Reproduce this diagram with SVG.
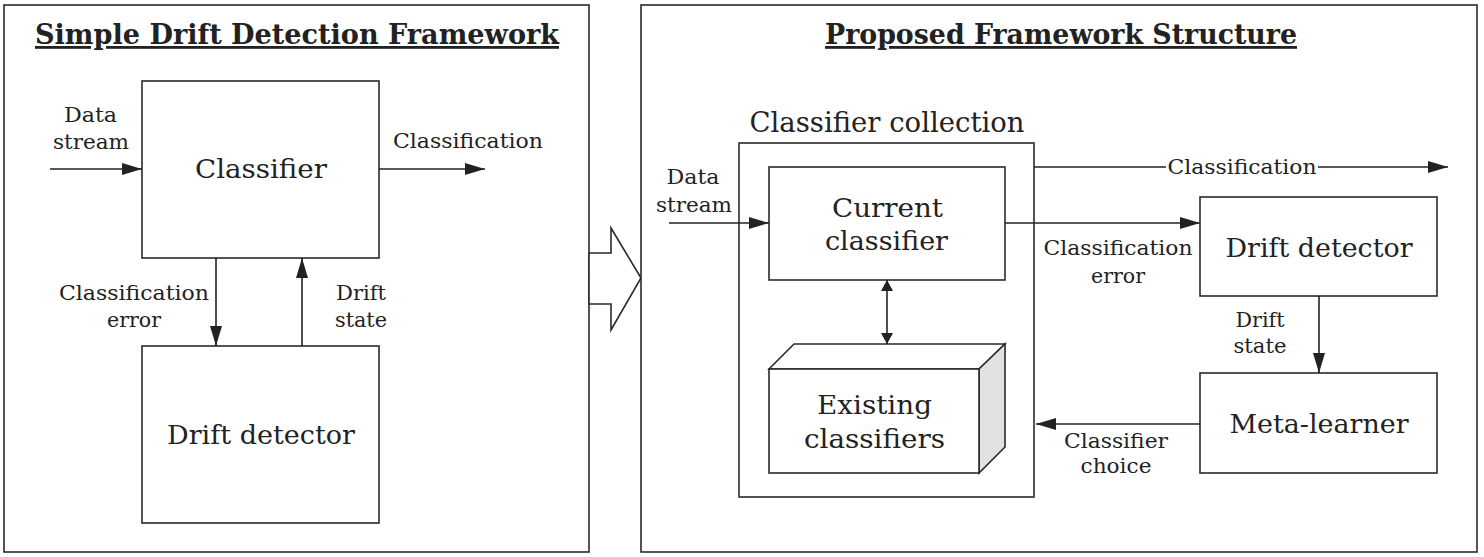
<svg xmlns="http://www.w3.org/2000/svg" width="1484" height="557" viewBox="0 0 1484 557">
<style>
.frame{fill:#fff;stroke:#2a2a2a;stroke-width:1.6}
.box{fill:#fff;stroke:#2a2a2a;stroke-width:1.6}
.ln{fill:none;stroke:#222;stroke-width:1.6}
.t{font-family:"DejaVu Serif","Liberation Serif",serif;fill:#222;text-anchor:middle}
.title{font-size:28px;font-weight:bold;text-decoration:underline}
.big{font-size:26px}
.lbl{font-size:20px}
</style>
<defs>
<marker id="ah" markerUnits="userSpaceOnUse" markerWidth="20" markerHeight="12" refX="20" refY="6" orient="auto" viewBox="0 0 20 12">
<path d="M0,0 L20,6 L0,12 z" fill="#222"/>
</marker>
<marker id="sh" markerUnits="userSpaceOnUse" markerWidth="12" markerHeight="12" refX="11" refY="6" orient="auto-start-reverse" viewBox="0 0 12 12">
<path d="M0,0 L11,6 L0,12 z" fill="#222"/>
</marker>
</defs>
<rect width="1484" height="557" fill="#fff"/>

<g id="left-panel">
<rect class="frame" x="4" y="5" width="585" height="547"/>
<text class="t title" x="297" y="44" textLength="524" lengthAdjust="spacingAndGlyphs">Simple Drift Detection Framework</text>
</g>
<g id="left-classifier">
<rect class="box" x="142" y="81" width="237" height="177"/>
<text class="t big" x="261" y="178" textLength="132" lengthAdjust="spacingAndGlyphs">Classifier</text>
</g>
<g id="left-drift-detector">
<rect class="box" x="142" y="346" width="237" height="177"/>
<text class="t big" x="261" y="444" textLength="188" lengthAdjust="spacingAndGlyphs">Drift detector</text>
</g>

<g id="transition-arrow">
<polygon class="box" points="589,253 611,253 611,228 641,278 611,330 611,304 589,304"/>
</g>

<g id="right-panel">
<rect class="frame" x="641" y="5" width="836" height="547"/>
<text class="t title" x="1061" y="44" textLength="472" lengthAdjust="spacingAndGlyphs">Proposed Framework Structure</text>
</g>
<g id="classifier-collection">
<rect class="box" x="739" y="143" width="295" height="354"/>
<text class="t" style="font-size:28px" x="887" y="132" textLength="275" lengthAdjust="spacingAndGlyphs">Classifier collection</text>
</g>
<g id="current-classifier">
<rect class="box" x="769" y="167" width="236" height="113"/>
<text class="t big" x="887.5" y="217" textLength="111" lengthAdjust="spacingAndGlyphs">Current</text>
<text class="t big" x="886.5" y="250" textLength="123" lengthAdjust="spacingAndGlyphs">classifier</text>
</g>
<g id="existing-classifiers">
<polygon class="box" points="769,369 794,344 1005,344 979,369"/>
<polygon class="box" style="fill:#e2e2e2" points="979,369 1005,344 1005,447 979,473"/>
<rect class="box" x="769" y="369" width="210" height="104"/>
<text class="t big" x="874.5" y="414" textLength="115" lengthAdjust="spacingAndGlyphs">Existing</text>
<text class="t big" x="874.5" y="448" textLength="141" lengthAdjust="spacingAndGlyphs">classifiers</text>
</g>
<g id="right-drift-detector">
<rect class="box" x="1200" y="197" width="237" height="99"/>
<text class="t big" x="1319" y="257" textLength="187" lengthAdjust="spacingAndGlyphs">Drift detector</text>
</g>
<g id="meta-learner">
<rect class="box" x="1200" y="373" width="237" height="100"/>
<text class="t big" x="1319" y="433" textLength="179" lengthAdjust="spacingAndGlyphs">Meta-learner</text>
</g>

<g id="connectors">
<line class="ln" x1="50" y1="169" x2="142" y2="169" marker-end="url(#ah)"/>
<text class="t lbl" x="90.5" y="122" textLength="53" lengthAdjust="spacingAndGlyphs">Data</text>
<text class="t lbl" x="91" y="149" textLength="76" lengthAdjust="spacingAndGlyphs">stream</text>
<line class="ln" x1="379" y1="169" x2="485" y2="169" marker-end="url(#ah)"/>
<text class="t lbl" x="468" y="148" textLength="150" lengthAdjust="spacingAndGlyphs">Classification</text>
<line class="ln" x1="216" y1="258" x2="216" y2="346" marker-end="url(#ah)"/>
<text class="t lbl" x="134" y="300" textLength="150" lengthAdjust="spacingAndGlyphs">Classification</text>
<text class="t lbl" x="134" y="327" textLength="54" lengthAdjust="spacingAndGlyphs">error</text>
<line class="ln" x1="302" y1="346" x2="302" y2="258" marker-end="url(#ah)"/>
<text class="t lbl" x="361" y="300" textLength="50" lengthAdjust="spacingAndGlyphs">Drift</text>
<text class="t lbl" x="361" y="327" textLength="52" lengthAdjust="spacingAndGlyphs">state</text>

<line class="ln" x1="669" y1="223" x2="769" y2="223" marker-end="url(#ah)"/>
<text class="t lbl" x="693" y="184" textLength="53" lengthAdjust="spacingAndGlyphs">Data</text>
<text class="t lbl" x="694" y="212" textLength="76" lengthAdjust="spacingAndGlyphs">stream</text>
<line class="ln" x1="887" y1="280" x2="887" y2="344" marker-start="url(#sh)" marker-end="url(#sh)"/>
<line class="ln" x1="1034" y1="167" x2="1166" y2="167"/>
<line class="ln" x1="1318" y1="167" x2="1448" y2="167" marker-end="url(#ah)"/>
<text class="t lbl" x="1242" y="174" textLength="149" lengthAdjust="spacingAndGlyphs">Classification</text>
<line class="ln" x1="1005" y1="223" x2="1200" y2="223" marker-end="url(#ah)"/>
<text class="t lbl" x="1118" y="255" textLength="149" lengthAdjust="spacingAndGlyphs">Classification</text>
<text class="t lbl" x="1118" y="283" textLength="54" lengthAdjust="spacingAndGlyphs">error</text>
<line class="ln" x1="1319" y1="296" x2="1319" y2="373" marker-end="url(#ah)"/>
<text class="t lbl" x="1260" y="327" textLength="49" lengthAdjust="spacingAndGlyphs">Drift</text>
<text class="t lbl" x="1260" y="353" textLength="53" lengthAdjust="spacingAndGlyphs">state</text>
<line class="ln" x1="1200" y1="424" x2="1036" y2="424" marker-end="url(#ah)"/>
<text class="t lbl" x="1116" y="448" textLength="104" lengthAdjust="spacingAndGlyphs">Classifier</text>
<text class="t lbl" x="1116" y="473" textLength="71" lengthAdjust="spacingAndGlyphs">choice</text>
</g>
</svg>
